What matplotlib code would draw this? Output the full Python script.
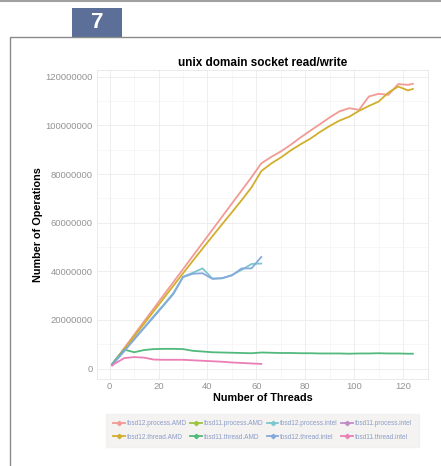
import matplotlib
matplotlib.use("Agg")
import matplotlib.pyplot as plt
from matplotlib.patches import Rectangle
from matplotlib.lines import Line2D
from matplotlib.ticker import MultipleLocator, FormatStrFormatter

plt.rcParams['font.family'] = ['Liberation Sans', 'DejaVu Sans']

# thread counts tested on each machine
threads_amd = [1, 2, 6, 10, 14, 18, 22, 26, 30, 34, 38, 42, 46, 50, 54, 58, 62,
               66, 70, 74, 78, 82, 86, 90, 94, 98, 102, 106, 110, 114, 118, 122, 124]
threads_intel = [1, 2, 6, 10, 14, 18, 22, 26, 30, 34, 38, 42, 46, 50, 54, 58, 62]

# operations, in millions
fbsd12_process_amd = [1.8, 3.1, 8.5, 13.9, 19.3, 24.7, 30.1, 35.5, 40.9, 46.3, 51.7, 57.1,
                      62.5, 67.9, 73.3, 78.7, 84.4, 87.0, 89.3, 92.0, 95.0, 97.8, 100.5,
                      103.3, 105.8, 107.1, 106.4, 111.9, 113.0, 112.6, 117.0, 116.7, 117.1]
fbsd12_thread_amd = [1.6, 2.9, 8.0, 13.2, 18.4, 23.6, 28.8, 34.0, 39.2, 44.3, 49.4, 54.4,
                     59.4, 64.3, 69.3, 74.5, 81.2, 84.3, 86.8, 89.7, 92.2, 94.5, 97.3,
                     99.8, 102.0, 103.6, 106.0, 108.0, 109.8, 113.5, 116.0, 114.4, 115.0]
fbsd11_thread_amd = [1.9, 3.2, 7.8, 6.7, 7.6, 8.0, 8.1, 8.1, 8.0, 7.3, 7.0, 6.7, 6.6, 6.5,
                     6.4, 6.3, 6.6, 6.5, 6.4, 6.4, 6.3, 6.3, 6.2, 6.2, 6.2, 6.1, 6.2, 6.2,
                     6.3, 6.2, 6.2, 6.1, 6.1]
fbsd12_process_intel = [1.6, 2.8, 7.5, 12.2, 16.9, 21.6, 26.2, 31.0, 37.8, 39.4, 41.2,
                        37.0, 37.1, 38.5, 40.6, 43.0, 43.2]
fbsd12_thread_intel = [1.5, 2.6, 7.2, 11.9, 16.6, 21.2, 25.9, 30.6, 37.6, 39.0, 39.2,
                       36.9, 37.2, 38.3, 41.2, 41.2, 45.9]
fbsd11_thread_intel = [1.2, 2.0, 4.3, 4.7, 4.5, 3.7, 3.6, 3.6, 3.6, 3.4, 3.2, 3.0, 2.8,
                       2.5, 2.3, 2.1, 1.9]

series_names = ["fbsd12.process.AMD", "fbsd11.process.AMD", "fbsd12.process.intel",
                "fbsd11.process.intel", "fbsd12.thread.AMD", "fbsd11.thread.AMD",
                "fbsd12.thread.intel", "fbsd11.thread.intel"]
series_colors = ["#F29A94", "#9EC33E", "#7CC7CF", "#C08BC8",
                 "#D2AE2C", "#52B97C", "#86A9DC", "#EA7EB5"]

W, H = 441, 466
fig = plt.figure(figsize=(W / 100, H / 100), dpi=100)

def fx(px):
    return px / W

def fy(py):
    return 1 - py / H

# page decorations
fig.add_artist(Line2D([0, 1], [fy(0.5), fy(0.5)], color="#a0a0a0", lw=1.5))
fig.add_artist(Line2D([fx(10), fx(10), 1], [0, fy(37), fy(37)], color="#8a8a8a", lw=1.0))
fig.add_artist(Rectangle((fx(72), fy(37)), fx(50), 29 / H, color="#5B6F98", lw=0))
fig.text(fx(97), fy(23), "7", color="white", fontsize=16, fontweight="bold",
         ha="center", va="center")

ax = fig.add_axes([fx(97), fy(379), fx(331), 309 / H])

def mil(v):
    return [x * 1e6 for x in v]

data = {
    "fbsd12.process.AMD": (threads_amd, fbsd12_process_amd),
    "fbsd12.thread.AMD": (threads_amd, fbsd12_thread_amd),
    "fbsd11.thread.AMD": (threads_amd, fbsd11_thread_amd),
    "fbsd12.process.intel": (threads_intel, fbsd12_process_intel),
    "fbsd12.thread.intel": (threads_intel, fbsd12_thread_intel),
    "fbsd11.thread.intel": (threads_intel, fbsd11_thread_intel),
}
for name, col in zip(series_names, series_colors):
    if name in data:
        xs, ys = data[name]
        ax.plot(xs, mil(ys), color=col, lw=1.3, solid_joinstyle="round")

ax.set_xlim(-5.2, 130.2)
ax.set_ylim(-4.3e6, 122.8e6)
ax.xaxis.set_major_locator(MultipleLocator(20))
ax.xaxis.set_minor_locator(MultipleLocator(10))
ax.yaxis.set_major_locator(MultipleLocator(20e6))
ax.yaxis.set_minor_locator(MultipleLocator(10e6))
ax.yaxis.set_major_formatter(FormatStrFormatter("%d"))
ax.grid(which="major", color="#EBEBEB", lw=0.6)
ax.grid(which="minor", color="#F4F4F4", lw=0.5)
ax.set_axisbelow(True)
for s in ax.spines.values():
    s.set_color("#E6E6E6")
    s.set_linewidth(0.6)
ax.tick_params(which="both", length=0, labelsize=6.8, labelcolor="#939393", pad=3)
ax.tick_params(axis="x", pad=2.5)

ax.set_title("unix domain socket read/write", fontsize=8.5, fontweight="bold", pad=3)
ax.set_xlabel("Number of Threads", fontsize=7.8, fontweight="bold", labelpad=1)
ax.set_ylabel("Number of Operations", fontsize=7.8, fontweight="bold", labelpad=2)

# legend laid out row by row
handles = [Line2D([], [], color=c, lw=1.3, marker="D", markersize=2.2) for c in series_colors]
order = [0, 4, 1, 5, 2, 6, 3, 7]
leg = fig.legend([handles[i] for i in order], [series_names[i] for i in order],
                 ncol=4, loc="center", bbox_to_anchor=(fx(262.5), fy(430.5)),
                 fontsize=4.7, frameon=True, fancybox=False, handlelength=1.8,
                 handletextpad=0.3, columnspacing=0.5, borderpad=1.0, labelspacing=1.0)
leg.get_frame().set_facecolor("#F2F0EE")
leg.get_frame().set_edgecolor("#F2F0EE")
for t in leg.get_texts():
    t.set_color("#8C9CC8")

fig.savefig("out.png", dpi=100)
